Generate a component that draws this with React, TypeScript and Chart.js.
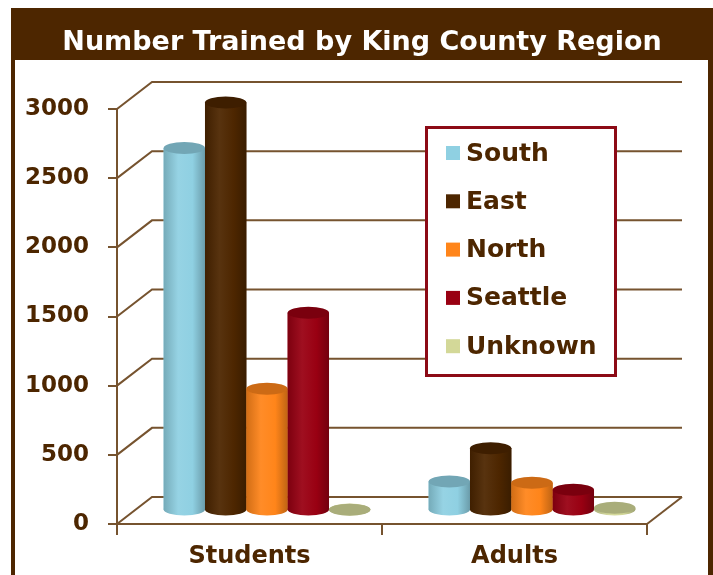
import React, { useEffect, useRef } from 'react';
import { Chart, registerables } from 'chart.js';

Chart.register(...registerables);

// ---- data ----
const titleText = 'Number Trained by King County Region';
const categories = ['Students', 'Adults'];
const seriesNames = ['South', 'East', 'North', 'Seattle', 'Unknown'];
const south = [2620, 210];
const east = [2950, 450];
const north = [880, 200];
const seattle = [1430, 150];
const unknown = [5, 20];
const seriesValues = [south, east, north, seattle, unknown];
const seriesColors = ['#8fd0e2', '#4d2600', '#ff851a', '#990012', '#d3d898'];
const yMin = 0;
const yMax = 3000;
const yStep = 500;

// ---- style ----
const FONT = "'DejaVu Sans', 'Verdana', sans-serif";
const BROWN = '#4d2600';
const TEXT = '#4d2600';
const GRID = '#76532f';
const DX = 35;
const DY = -27;

function shade(hex: string, f: number): string {
  const n = parseInt(hex.slice(1), 16);
  const r = (n >> 16) & 255;
  const g = (n >> 8) & 255;
  const b = n & 255;
  const adj = (c: number) =>
    f >= 1 ? Math.round(c + (255 - c) * (f - 1)) : Math.round(c * f);
  return `rgb(${adj(r)},${adj(g)},${adj(b)})`;
}

const framePlugin = {
  id: 'frame',
  beforeDraw(chart: any) {
    const { ctx, width, height } = chart;
    ctx.save();
    ctx.fillStyle = '#ffffff';
    ctx.fillRect(0, 0, width, height);
    ctx.fillStyle = BROWN;
    ctx.fillRect(11, 8, width - 11, height - 8);
    ctx.fillStyle = '#ffffff';
    ctx.fillRect(15, 60, 708 - 15, height - 60);
    ctx.fillStyle = '#ffffff';
    ctx.font = `bold 27px ${FONT}`;
    ctx.textAlign = 'center';
    ctx.textBaseline = 'alphabetic';
    ctx.fillText(titleText, 362, 50);
    ctx.restore();
  },
};

const wallsPlugin = {
  id: 'walls3d',
  beforeDatasetsDraw(chart: any) {
    const { ctx, chartArea: a, scales } = chart;
    const ys = scales.y;
    ctx.save();
    ctx.strokeStyle = GRID;
    ctx.lineWidth = 2;
    ys.ticks.forEach((t: any) => {
      const py = ys.getPixelForValue(t.value);
      ctx.beginPath();
      ctx.moveTo(a.left, py);
      ctx.lineTo(a.left + DX, py + DY);
      ctx.lineTo(a.right + DX, py + DY);
      ctx.stroke();
    });
    ctx.beginPath();
    ctx.moveTo(a.right, a.bottom);
    ctx.lineTo(a.right + DX, a.bottom + DY);
    ctx.stroke();
    ctx.restore();
    ctx.save();
    ctx.translate(DX / 2, DY / 2);
  },
  afterDatasetsDraw(chart: any) {
    const { ctx } = chart;
    const n = chart.data.labels.length;
    for (let ci = 0; ci < n; ci++) {
      chart.data.datasets.forEach((ds: any, di: number) => {
        const meta = chart.getDatasetMeta(di);
        const el = meta.data[ci];
        if (!el) return;
        const { x, y, base, width } = el.getProps(['x', 'y', 'base', 'width'], true);
        const c = seriesColors[di];
        const rx = width / 2;
        const ry = 6;
        const left = x - rx;
        const grad = ctx.createLinearGradient(left, 0, left + width, 0);
        grad.addColorStop(0, shade(c, 0.82));
        grad.addColorStop(0.35, shade(c, 1.06));
        grad.addColorStop(0.7, c);
        grad.addColorStop(1, shade(c, 0.75));
        ctx.fillStyle = grad;
        ctx.beginPath();
        ctx.ellipse(x, base, rx, ry, 0, 0, Math.PI * 2);
        ctx.fill();
        ctx.fillRect(left, y, width, base - y);
        ctx.fillStyle = shade(c, 0.8);
        ctx.beginPath();
        ctx.ellipse(x, y, rx, ry, 0, 0, Math.PI * 2);
        ctx.fill();
      });
    }
    ctx.restore();
  },
};

const legendPlugin = {
  id: 'legendBox',
  afterDraw(chart: any) {
    const { ctx } = chart;
    const L = 426.5, T = 127.5, W = 189, H = 248;
    ctx.save();
    ctx.fillStyle = '#ffffff';
    ctx.fillRect(L, T, W, H);
    ctx.strokeStyle = '#8c0a16';
    ctx.lineWidth = 3;
    ctx.strokeRect(L, T, W, H);
    ctx.font = `bold 25px ${FONT}`;
    ctx.textBaseline = 'middle';
    ctx.textAlign = 'left';
    chart.data.datasets.forEach((ds: any, i: number) => {
      const cy = 153 + i * 48.3;
      ctx.fillStyle = seriesColors[i];
      ctx.fillRect(446, cy - 7, 14, 14);
      ctx.fillStyle = TEXT;
      ctx.fillText(ds.label, 466, cy + 1);
    });
    ctx.restore();
  },
};

export default function App() {
  const ref = useRef<HTMLCanvasElement>(null);
  useEffect(() => {
    document.body.style.margin = '0';
    const chart = new Chart(ref.current as HTMLCanvasElement, {
      type: 'bar',
      data: {
        labels: categories,
        datasets: seriesNames.map((name, i) => ({
          label: name,
          data: seriesValues[i],
          backgroundColor: seriesColors[i],
          borderWidth: 0,
          clip: false as any,
        })),
      },
      options: {
        responsive: false,
        animation: false,
        devicePixelRatio: 1,
        layout: { padding: { top: 109, left: 0, right: 66, bottom: 0 } },
        datasets: { bar: { categoryPercentage: 0.78, barPercentage: 1 } },
        plugins: {
          legend: { display: false },
          tooltip: { enabled: false },
          title: { display: false },
        },
        scales: {
          x: {
            grid: {
              offset: true,
              drawOnChartArea: false,
              drawTicks: true,
              tickLength: 11,
              color: GRID,
              lineWidth: 2,
            },
            border: { display: true, color: GRID, width: 2 },
            ticks: {
              color: TEXT,
              font: { family: FONT, size: 24, weight: 'bold' },
              padding: 7,
            },
            afterFit: (s: any) => {
              s.height = 51;
            },
          },
          y: {
            min: yMin,
            max: yMax,
            grid: {
              drawOnChartArea: false,
              drawTicks: true,
              tickLength: 9,
              color: GRID,
              lineWidth: 2,
            },
            border: { display: true, color: GRID, width: 2 },
            ticks: {
              stepSize: yStep,
              color: TEXT,
              font: { family: FONT, size: 23, weight: 'bold' },
              padding: 19,
              callback: (v: any) => String(v),
            },
            afterFit: (s: any) => {
              s.width = 117;
            },
          },
        },
      },
      plugins: [framePlugin, wallsPlugin, legendPlugin],
    });
    return () => chart.destroy();
  }, []);
  return (
    <canvas
      ref={ref}
      width={713}
      height={575}
      style={{ display: 'block', width: 713, height: 575 }}
    />
  );
}
